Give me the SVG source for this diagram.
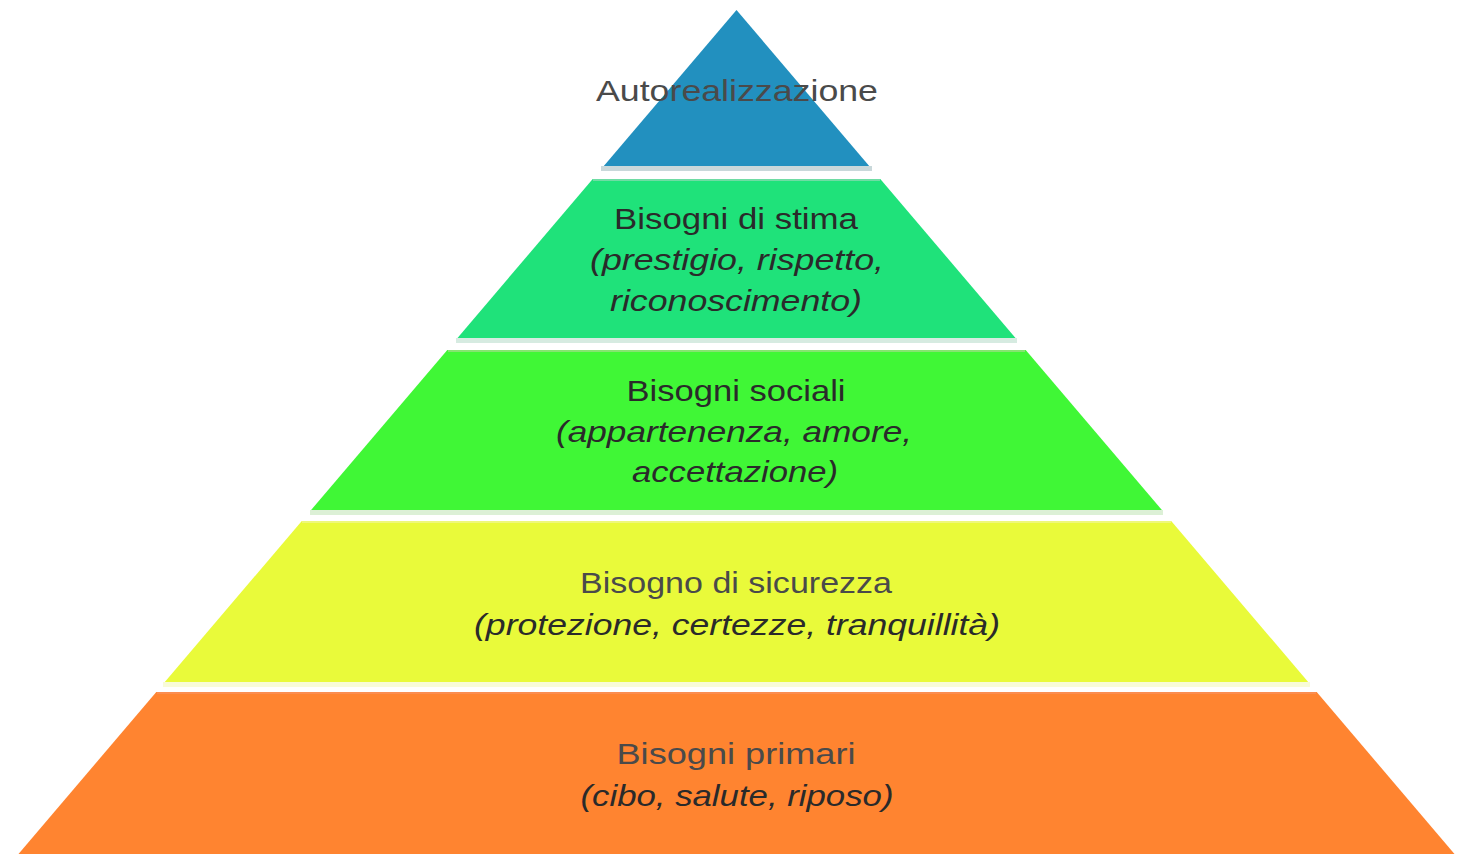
<svg xmlns="http://www.w3.org/2000/svg" width="1470" height="854" viewBox="0 0 1470 854">
  <style>
    .t { font-family: "Liberation Sans", Arial, sans-serif; font-size: 30px; text-anchor: middle; fill: #2a2a2a; }
    .i { font-style: italic; }
    .g { fill: #4a4a4a; }
  </style>
  <rect width="1470" height="854" fill="#ffffff"/>
  <g id="level-autorealizzazione">
    <polygon points="736.5,10 869.2,166 603.8,166" fill="#2290bf"/>
    <rect x="601" y="166" width="271" height="5" fill="#c9d8da"/>
    <text class="t g" x="737" y="101" textLength="282" lengthAdjust="spacingAndGlyphs">Autorealizzazione</text>
  </g>
  <g id="level-stima">
    <polygon points="592.7,179 880.3,179 1015.5,338 457.5,338" fill="#1fe27a"/>
    <line x1="593" y1="180" x2="880" y2="180" stroke="#6fdca4" stroke-width="2"/>
    <rect x="456" y="338" width="561" height="5" fill="#d6ebe1"/>
    <text class="t" x="736" y="229" textLength="244" lengthAdjust="spacingAndGlyphs">Bisogni di stima</text>
    <text class="t i" x="737" y="270" textLength="294" lengthAdjust="spacingAndGlyphs">(prestigio, rispetto,</text>
    <text class="t i" x="736" y="311" textLength="252" lengthAdjust="spacingAndGlyphs">riconoscimento)</text>
  </g>
  <g id="level-sociali">
    <polygon points="447.3,350 1025.7,350 1161.9,510 311.1,510" fill="#40f736"/>
    <line x1="448" y1="351" x2="1025" y2="351" stroke="#86e470" stroke-width="2"/>
    <rect x="310" y="510" width="853" height="5" fill="#dcf0d6"/>
    <text class="t" x="736" y="401" textLength="219" lengthAdjust="spacingAndGlyphs">Bisogni sociali</text>
    <text class="t i" x="734" y="442" textLength="356" lengthAdjust="spacingAndGlyphs">(appartenenza, amore,</text>
    <text class="t i" x="735" y="482" textLength="206" lengthAdjust="spacingAndGlyphs">accettazione)</text>
  </g>
  <g id="level-sicurezza">
    <polygon points="301.8,521 1171.2,521 1308.2,682 164.8,682" fill="#e9fa3a"/>
    <line x1="302" y1="522" x2="1171" y2="522" stroke="#eef87a" stroke-width="2"/>
    <rect x="163" y="682" width="1147" height="5" fill="#f8fbd8"/>
    <text class="t g" x="736" y="593" textLength="312" lengthAdjust="spacingAndGlyphs">Bisogno di sicurezza</text>
    <text class="t i" x="737" y="635" textLength="526" lengthAdjust="spacingAndGlyphs">(protezione, certezze, tranquillità)</text>
  </g>
  <g id="level-primari">
    <polygon points="156.3,692 1316.7,692 1454.5,854 18.5,854" fill="#ff8430"/>
    <line x1="157" y1="693" x2="1316" y2="693" stroke="#fb8d50" stroke-width="2"/>
    <text class="t g" x="736" y="764" textLength="239" lengthAdjust="spacingAndGlyphs">Bisogni primari</text>
    <text class="t i" x="737" y="806" textLength="313" lengthAdjust="spacingAndGlyphs">(cibo, salute, riposo)</text>
  </g>
</svg>
